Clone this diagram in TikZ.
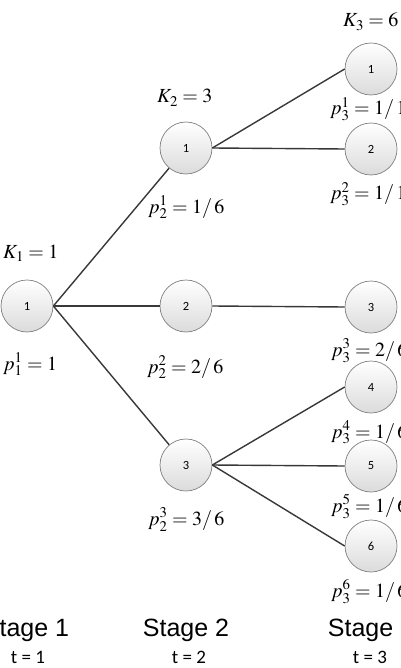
\documentclass[tikz,border=0pt]{standalone}
\usepackage{mathptmx}
\usepackage[no-math]{fontspec}
\newfontfamily\arialf{Liberation Sans}
\newfontfamily\calf{Carlito}
\newcommand{\frq}[2]{#1/\,#2}
\begin{document}
\begin{tikzpicture}[x=1pt,y=-1pt,
  st/.style={circle, minimum size=52pt, inner sep=0pt, draw=black!50, line width=0.7pt,
             top color=white, bottom color=black!14, font=\calf\fontsize{12.5}{12.5}\selectfont},
  ln/.style={draw=black!78, line width=1.4pt},
  lab/.style={font=\fontsize{20}{20}\selectfont, inner sep=0pt, anchor=base west},
  stage/.style={font=\arialf\fontsize{25}{25}\selectfont, inner sep=0pt, anchor=base},
  tlab/.style={font=\calf\fontsize{19}{19}\selectfont, inner sep=0pt, anchor=base}]
\useasboundingbox (0,0) rectangle (400,668);
\clip (0,0) rectangle (400,668);
\node[st] (a1) at (27,306) {1};
\node[st] (b1) at (186,148) {1};
\node[st] (b2) at (186,306) {2};
\node[st] (b3) at (186,465) {3};
\node[st] (c1) at (371,69) {1};
\node[st] (c2) at (371,149) {2};
\node[st] (c3) at (371,307) {3};
\node[st] (c4) at (371,387) {4};
\node[st] (c5) at (371,466) {5};
\node[st] (c6) at (371,546) {6};
\draw[ln] (a1.east) -- (b1);
\draw[ln] (a1.east) -- (b2);
\draw[ln] (a1.east) -- (b3);
\draw[ln] (b1.east) -- (c1.west);
\draw[ln] (b1.east) -- (c2.west);
\draw[ln] (b2.east) -- (c3.west);
\draw[ln] (b3.east) -- (c4.west);
\draw[ln] (b3.east) -- (c5.west);
\draw[ln] (b3.east) -- (c6.west);
\node[lab] (k1) at (3,258) {$K_1=1$};
\node[lab] (q11) at (3,370) {$p_1^1=1$};
\node[lab] (k2) at (157,103) {$K_2=3$};
\node[lab] (q21) at (148,213) {$p_2^1=\frq{1}{6}$};
\node[lab] (q22) at (147,373) {$p_2^2=\frq{2}{6}$};
\node[lab] (q23) at (148,525) {$p_2^3=\frq{3}{6}$};
\node[lab] (k3) at (343,27) {$K_3=6$};
\node[lab] (q31) at (330,115) {$p_3^1=\frq{1}{12}$};
\node[lab] (q32) at (330,200) {$p_3^2=\frq{1}{12}$};
\node[lab] (q33) at (331,356) {$p_3^3=\frq{2}{6}$};
\node[lab] (q34) at (331,438) {$p_3^4=\frq{1}{6}$};
\node[lab] (q35) at (331,512) {$p_3^5=\frq{1}{6}$};
\node[lab] (q36) at (331,597) {$p_3^6=\frq{1}{6}$};
\node[stage] (s1) at (26,636) {Stage 1};
\node[stage] (s2) at (186,636) {Stage 2};
\node[stage] (s3) at (371,636) {Stage 3};
\node[tlab] (t1) at (28,663) {t = 1};
\node[tlab] (t2) at (189,663) {t = 2};
\node[tlab] (t3) at (370,663) {t = 3};
\end{tikzpicture}
\end{document}
